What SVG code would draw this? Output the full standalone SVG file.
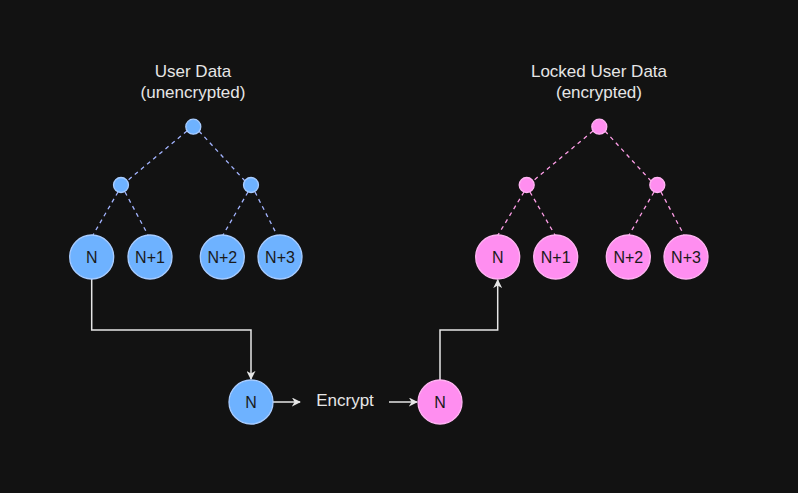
<svg xmlns="http://www.w3.org/2000/svg" width="798" height="493" viewBox="0 0 798 493">
<defs>
<style>
.bg{fill:#121212}
.lbl{font-family:"Liberation Sans",Arial,sans-serif;font-size:17px;fill:#e6e6e6;text-anchor:middle}
.nt{font-family:"Liberation Sans",Arial,sans-serif;font-size:16px;fill:#1a1a1a;text-anchor:middle;dominant-baseline:central}
.b{fill:#6eb2ff;stroke:#a8ccff;stroke-width:1.3}
.p{fill:#ff8ef0;stroke:#ffb3f2;stroke-width:1.3}
.db{fill:none;stroke:#a3b4ff;stroke-width:1.3;stroke-dasharray:4 4}
.dp{fill:none;stroke:#ff9ee8;stroke-width:1.3;stroke-dasharray:4 4}
.c{fill:none;stroke:#e6e6e6;stroke-width:1.5}
</style>
<marker id="ah" viewBox="0 0 10 10" refX="9" refY="5" markerWidth="9" markerHeight="9" markerUnits="userSpaceOnUse" orient="auto">
<path d="M0,0 L10,5 L0,10 L3,5 Z" fill="#e6e6e6"/>
</marker>
</defs>
<rect class="bg" x="0" y="0" width="798" height="493"/>
<g id="titles">
<text class="lbl" x="193" y="77">User Data</text>
<text class="lbl" x="193" y="98">(unencrypted)</text>
<text class="lbl" x="599" y="77">Locked User Data</text>
<text class="lbl" x="599" y="98">(encrypted)</text>
</g>
<g id="connectors">
<path class="db" d="M187,131 L127,181"/>
<path class="db" d="M199,131 L245,181"/>
<path class="db" d="M118,192 L93,235"/>
<path class="db" d="M125,192 L148,235"/>
<path class="db" d="M248,192 L223,235"/>
<path class="db" d="M255,192 L277,235"/>
<path class="dp" d="M593,131 L533,181"/>
<path class="dp" d="M605,131 L651,181"/>
<path class="dp" d="M524,192 L498,235"/>
<path class="dp" d="M530,192 L555,235"/>
<path class="dp" d="M654,192 L629,235"/>
<path class="dp" d="M661,192 L684,235"/>
<path class="c" d="M91.7,279 V330 H251 V379" marker-end="url(#ah)"/>
<path class="c" d="M440,380 V330 H497.7 V280" marker-end="url(#ah)"/>
<path class="c" d="M273,402 H300" marker-end="url(#ah)"/>
<path class="c" d="M389,402 H417" marker-end="url(#ah)"/>
</g>
<g id="b-root"><circle class="b" cx="193.3" cy="126.7" r="7.5"/></g>
<g id="b-l"><circle class="b" cx="121" cy="185" r="7.5"/></g>
<g id="b-r"><circle class="b" cx="251" cy="185" r="7.5"/></g>
<g id="b-n0"><circle class="b" cx="91.7" cy="257" r="22"/><text class="nt" x="91.7" y="257">N</text></g>
<g id="b-n1"><circle class="b" cx="150" cy="257" r="22"/><text class="nt" x="150" y="257">N+1</text></g>
<g id="b-n2"><circle class="b" cx="222.3" cy="257" r="22"/><text class="nt" x="222.3" y="257">N+2</text></g>
<g id="b-n3"><circle class="b" cx="280" cy="257" r="22"/><text class="nt" x="280" y="257">N+3</text></g>
<g id="p-root"><circle class="p" cx="599.3" cy="126.7" r="7.5"/></g>
<g id="p-l"><circle class="p" cx="526.7" cy="185" r="7.5"/></g>
<g id="p-r"><circle class="p" cx="657.3" cy="185" r="7.5"/></g>
<g id="p-n0"><circle class="p" cx="497.7" cy="257" r="22"/><text class="nt" x="497.7" y="257">N</text></g>
<g id="p-n1"><circle class="p" cx="555.7" cy="257" r="22"/><text class="nt" x="555.7" y="257">N+1</text></g>
<g id="p-n2"><circle class="p" cx="628.3" cy="257" r="22"/><text class="nt" x="628.3" y="257">N+2</text></g>
<g id="p-n3"><circle class="p" cx="686" cy="257" r="22"/><text class="nt" x="686" y="257">N+3</text></g>
<g id="b-single"><circle class="b" cx="251" cy="402" r="22"/><text class="nt" x="251" y="402">N</text></g>
<g id="encrypt"><text class="lbl" x="345" y="406">Encrypt</text></g>
<g id="p-single"><circle class="p" cx="440" cy="402" r="22"/><text class="nt" x="440" y="402">N</text></g>
</svg>
